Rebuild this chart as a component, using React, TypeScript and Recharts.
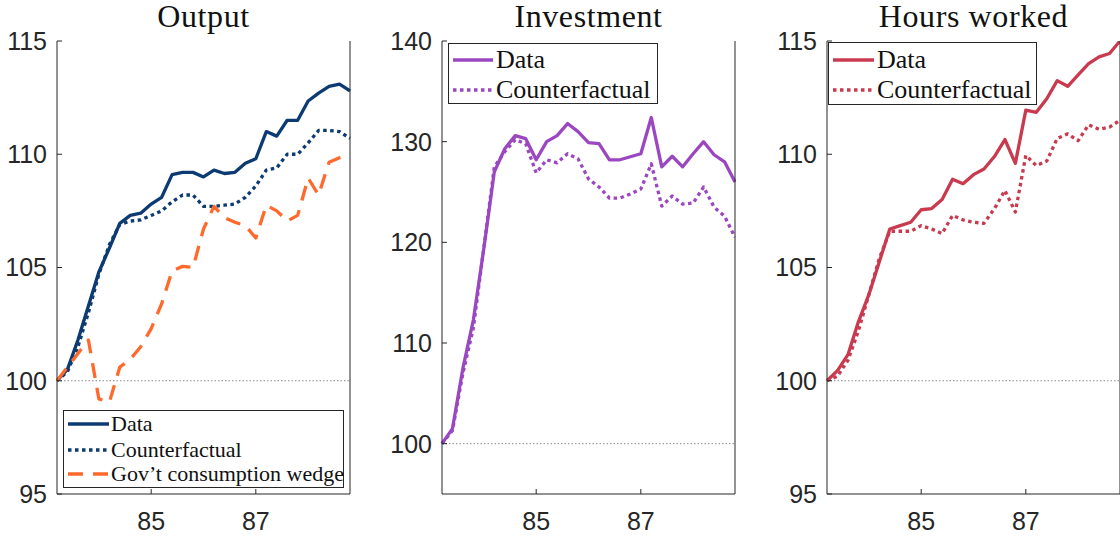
import React from "react";
import { LineChart, Line, XAxis, YAxis, ReferenceLine, Legend } from "recharts";

// quarter index 0..28, labels only at the two year marks
const xTicks = [9, 19];
const xTickLabels = ["85", "87"];

const outputData = [
  100, 100.5, 101.8, 103.3, 104.8, 105.85, 106.95, 107.3, 107.4, 107.8, 108.1, 109.1, 109.2, 109.2, 109.0,
  109.3, 109.15, 109.2, 109.6, 109.8, 111.0, 110.8, 111.5, 111.5, 112.35, 112.7, 113.0, 113.1, 112.8,
];
const outputCounterfactual = [
  100, 100.4, 101.5, 103.0, 104.7, 106.0, 106.9, 107.05, 107.1, 107.3, 107.5, 107.9, 108.2, 108.2, 107.7,
  107.7, 107.75, 107.8, 108.1, 108.6, 109.3, 109.4, 110.0, 110.0, 110.5, 111.05, 111.05, 111.0, 110.7,
];
const govWedge = [
  100, 100.6, 101.2, 101.8, 99.2, 99.05, 100.6, 100.95, 101.5, 102.3, 103.4, 104.85, 105.05, 105.0, 106.7,
  107.7, 107.2, 107.0, 106.85, 106.3, 107.75, 107.5, 107.05, 107.3, 108.95, 108.2, 109.65, 109.85, 110.0,
];

const investmentData = [
  100, 101.5, 107.5, 112.3, 119.4, 127.0, 129.3, 130.6, 130.3, 128.2, 130.0, 130.6, 131.8, 131.0, 129.9,
  129.8, 128.2, 128.2, 128.5, 128.8, 132.4, 127.5, 128.55, 127.5, 128.8, 130.0, 128.7, 128.0, 126.0,
];
const investmentCounterfactual = [
  100, 101.3, 107.0, 111.5, 119.5, 127.5, 129.0, 130.2, 129.8, 126.9, 128.2, 127.9, 128.8, 128.3, 126.3,
  125.5, 124.4, 124.4, 124.8, 125.3, 127.8, 123.6, 124.6, 123.8, 123.9, 125.5, 123.5, 122.6, 120.5,
];

const hoursData = [
  100, 100.45, 101.15, 102.6, 103.8, 105.25, 106.7, 106.85, 107.0, 107.55, 107.6, 108.0, 108.9, 108.7, 109.1,
  109.35, 109.9, 110.65, 109.6, 111.95, 111.85, 112.45, 113.25, 113.0, 113.5, 114.0, 114.3, 114.45, 115.0,
];
const hoursCounterfactual = [
  100, 100.2, 100.9, 102.2, 103.8, 105.4, 106.6, 106.6, 106.6, 106.85, 106.7, 106.5, 107.3, 107.1, 107.0,
  106.95, 107.6, 108.4, 107.45, 109.95, 109.5, 109.7, 110.7, 110.9, 110.6, 111.3, 111.1, 111.2, 111.5,
];

const outputTicks = [95, 100, 105, 110, 115];
const investmentTicks = [100, 110, 120, 130, 140];
const hoursTicks = [95, 100, 105, 110, 115];

const SOLID = "";
const DOTTED = "3.5 3.5";
const DASHED = "15 10";

const tickStyle = { fill: "#262626", fontSize: 25, fontFamily: "'Liberation Sans', Arial, sans-serif" };
const axisColor = "#262626";
const serif = "'Liberation Serif', 'Times New Roman', serif";

type Series = { key: string; name: string; color: string; dash: string; values: number[] };

type LegendCfg = {
  left: number;
  top: number;
  width: number;
  height: number;
  fontSize: number;
  rows: number[];
  sampleLeft: number;
  sampleWidth: number;
  textLeft: number;
};

const LegendBox = ({ cfg, series }: { cfg: LegendCfg; series: Series[] }) => (
  <div
    style={{
      position: "relative",
      width: cfg.width,
      height: cfg.height,
      boxSizing: "border-box",
      border: "1px solid #262626",
      background: "#fff",
    }}
  >
    {series.map((s, i) => (
      <div
        key={s.key}
        style={{
          position: "absolute",
          left: 0,
          top: cfg.rows[i] - 15,
          height: 30,
          width: cfg.width - 2,
          display: "flex",
          alignItems: "center",
        }}
      >
        <svg
          width={cfg.sampleWidth}
          height={10}
          style={{ position: "absolute", left: cfg.sampleLeft, top: 10 }}
        >
          <line
            x1={0}
            y1={5}
            x2={cfg.sampleWidth}
            y2={5}
            stroke={s.color}
            strokeWidth={3.5}
            strokeDasharray={s.dash || undefined}
          />
        </svg>
        <span
          style={{
            position: "absolute",
            left: cfg.textLeft,
            fontFamily: serif,
            fontSize: cfg.fontSize,
            lineHeight: "30px",
            color: "#111",
            whiteSpace: "nowrap",
          }}
        >
          {s.name}
        </span>
      </div>
    ))}
  </div>
);

const PLOT_W = 293;
const Y_W = 56;

function Panel({
  title,
  left,
  series,
  domain,
  ticks,
  legend,
}: {
  title: string;
  left: number;
  series: Series[];
  domain: [number, number];
  ticks: number[];
  legend: LegendCfg;
}) {
  const rows = series[0].values.map((_, i) => {
    const row: Record<string, number> = { t: i };
    series.forEach((s) => (row[s.key] = s.values[i]));
    return row;
  });
  return (
    <div style={{ position: "absolute", left, top: 0, width: Y_W + PLOT_W + 1, height: 540 }}>
      <div
        style={{
          position: "absolute",
          left: Y_W - 20,
          top: 0,
          width: PLOT_W + 40,
          textAlign: "center",
          fontFamily: serif,
          fontSize: 32,
          letterSpacing: 0.6,
          lineHeight: "32px",
          color: "#111",
          whiteSpace: "nowrap",
          zIndex: 2,
        }}
      >
        {title}
      </div>
      <LineChart
        width={Y_W + PLOT_W + 1}
        height={540}
        data={rows}
        margin={{ top: 41, right: 0, bottom: 0, left: 0 }}
      >
        <XAxis
          dataKey="t"
          type="number"
          domain={[0, 28]}
          ticks={xTicks}
          tickFormatter={(v) => xTickLabels[xTicks.indexOf(v)] ?? ""}
          height={46}
          tick={tickStyle}
          tickSize={-5}
          tickMargin={23}
          axisLine={{ stroke: axisColor }}
          tickLine={{ stroke: axisColor }}
        />
        <XAxis
          xAxisId="top"
          dataKey="t"
          type="number"
          orientation="top"
          domain={[0, 28]}
          ticks={xTicks}
          height={0}
          tick={false}
          tickSize={-5}
          axisLine={{ stroke: axisColor }}
          tickLine={{ stroke: axisColor }}
        />
        <YAxis
          type="number"
          domain={domain}
          ticks={ticks}
          width={Y_W}
          tick={tickStyle}
          tickSize={-5}
          tickMargin={15}
          axisLine={{ stroke: axisColor }}
          tickLine={{ stroke: axisColor }}
          allowDataOverflow
        />
        <YAxis
          yAxisId="right"
          type="number"
          orientation="right"
          domain={domain}
          ticks={ticks}
          width={1}
          tick={false}
          tickSize={-5}
          axisLine={{ stroke: axisColor }}
          tickLine={{ stroke: axisColor }}
          allowDataOverflow
        />
        <ReferenceLine y={100} stroke="#8a8a8a" strokeDasharray="1.5 2" strokeWidth={1} />
        {series.map((s) => (
          <Line
            key={s.key}
            dataKey={s.key}
            name={s.name}
            type="linear"
            stroke={s.color}
            strokeWidth={3.3}
            strokeDasharray={s.dash || undefined}
            strokeLinejoin="round"
            dot={false}
            activeDot={false}
            isAnimationActive={false}
          />
        ))}
        <Legend
          layout="vertical"
          align="center"
          verticalAlign="middle"
          width={legend.width}
          height={legend.height}
          wrapperStyle={{ left: legend.left, top: legend.top, width: legend.width, height: legend.height }}
          content={() => <LegendBox cfg={legend} series={series} />}
        />
      </LineChart>
    </div>
  );
}

const BLUE = "#0C3B73";
const ORANGE = "#FF6A2C";
const PURPLE = "#9B47C1";
const RED = "#C93A4F";

export default function App() {
  const outputSeries: Series[] = [
    { key: "data", name: "Data", color: BLUE, dash: SOLID, values: outputData },
    { key: "cf", name: "Counterfactual", color: BLUE, dash: DOTTED, values: outputCounterfactual },
    { key: "gov", name: "Gov\u2019t consumption wedge", color: ORANGE, dash: DASHED, values: govWedge },
  ];
  const investmentSeries: Series[] = [
    { key: "data", name: "Data", color: PURPLE, dash: SOLID, values: investmentData },
    { key: "cf", name: "Counterfactual", color: PURPLE, dash: DOTTED, values: investmentCounterfactual },
  ];
  const hoursSeries: Series[] = [
    { key: "data", name: "Data", color: RED, dash: SOLID, values: hoursData },
    { key: "cf", name: "Counterfactual", color: RED, dash: DOTTED, values: hoursCounterfactual },
  ];

  return (
    <div style={{ position: "absolute", left: 0, top: 0, width: 1120, height: 540, background: "#fff" }}>
      <Panel
        title="Output"
        left={1}
        series={outputSeries}
        domain={[95, 115]}
        ticks={outputTicks}
        legend={{
          left: 62,
          top: 410,
          width: 281,
          height: 78,
          fontSize: 22,
          rows: [13, 38.5, 63],
          sampleLeft: 4,
          sampleWidth: 41,
          textLeft: 47,
        }}
      />
      <Panel
        title="Investment"
        left={386}
        series={investmentSeries}
        domain={[95, 140]}
        ticks={investmentTicks}
        legend={{
          left: 62,
          top: 43,
          width: 210,
          height: 61,
          fontSize: 26,
          rows: [16, 46],
          sampleLeft: 4,
          sampleWidth: 40,
          textLeft: 47,
        }}
      />
      <Panel
        title="Hours worked"
        left={771}
        series={hoursSeries}
        domain={[95, 115]}
        ticks={hoursTicks}
        legend={{
          left: 57,
          top: 42,
          width: 209,
          height: 63,
          fontSize: 26,
          rows: [16.5, 46.5],
          sampleLeft: 4,
          sampleWidth: 41,
          textLeft: 48,
        }}
      />
    </div>
  );
}
